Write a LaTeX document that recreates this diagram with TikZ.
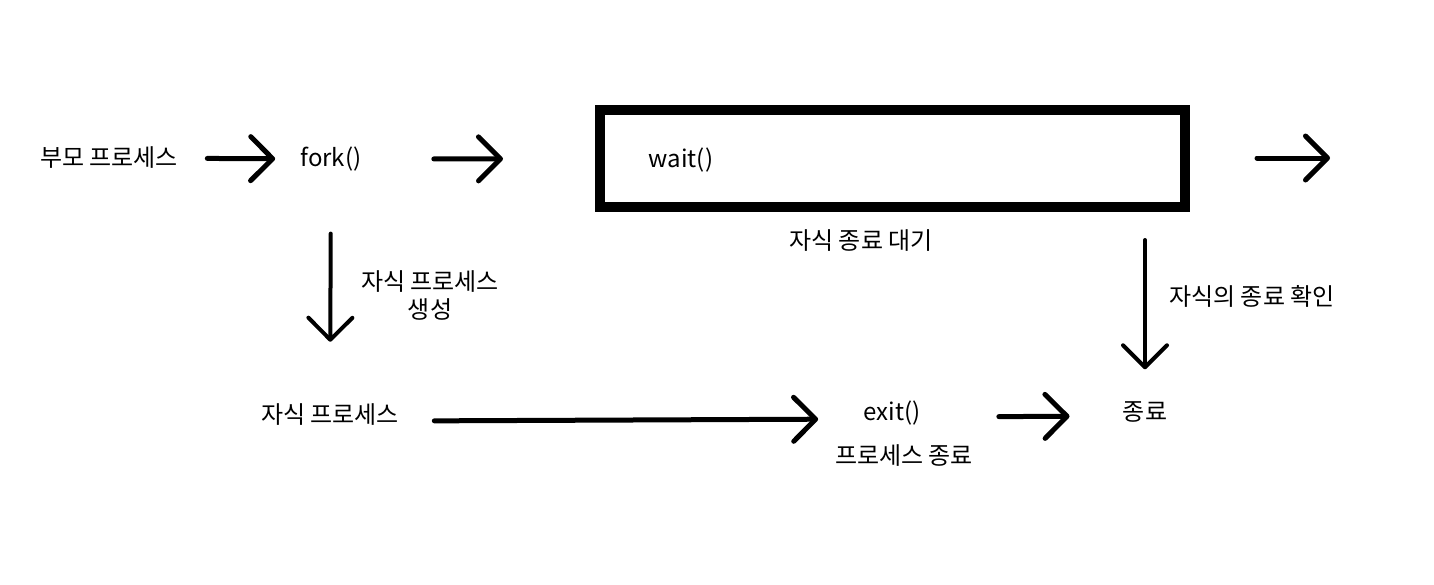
\documentclass[tikz,border=0pt]{standalone}
\usepackage{fontspec}
\setmainfont{Noto Sans CJK KR}
\usetikzlibrary{arrows.meta}

\begin{document}
\begin{tikzpicture}[x=0.5pt, y=-0.5pt,
    every node/.style={inner sep=0pt, font=\fontsize{12}{15}\selectfont},
    flow/.style={line width=2.5pt, line cap=round,
      -{Straight Barb[length=11pt, width=22pt, line cap=round, line join=round]}},
    down/.style={line width=2pt, line cap=round,
      -{Straight Barb[length=11pt, width=22pt, line cap=round, line join=round]}}]
  \useasboundingbox (0,0) rectangle (1434,584);

  \node (parent) at (109,158) {부모 프로세스};
  \node (fork) at (331,159) {fork()};
  \node[draw, line width=5pt, minimum width=292.5pt, minimum height=48.5pt] (waitbox) at (892.5,158.5) {};
  \node (wait) at (681,160) {wait()};
  \node (waitcap) at (861,241) {자식 종료 대기};
  \coordinate (out) at (1330,158);

  \node (child) at (330,415) {자식 프로세스};
  \node[align=center] (spawn) at (430,295) {자식 프로세스\\[-1pt]생성};
  \node (exit) at (892,413) {exit()};
  \node (exitcap) at (904,456) {프로세스 종료};
  \node (end) at (1145,412) {종료};
  \node (check) at (1252,296) {자식의 종료 확인};

  \draw[flow, shorten <=14.5pt, shorten >=12.5pt] (parent) -- (fork);
  \draw[flow, shorten <=36pt, shorten >=46pt] (fork) -- (waitbox);
  \draw[flow, shorten <=33.5pt] (waitbox.east |- out) -- (out);
  \draw[down, shorten <=31pt, shorten >=31pt] (fork) -- (child);
  \draw[down, shorten <=14pt, shorten >=16pt] (waitbox.south -| end) -- (end);
  \draw[flow, shorten <=17.5pt, shorten >=22.5pt] ([yshift=-3pt]child.east) -- ([yshift=-3pt]exit.west);
  \draw[flow, shorten <=39pt, shorten >=26.5pt] ([yshift=-2pt]exit.east) -- ([yshift=-2pt]end.west);
\end{tikzpicture}
\end{document}
